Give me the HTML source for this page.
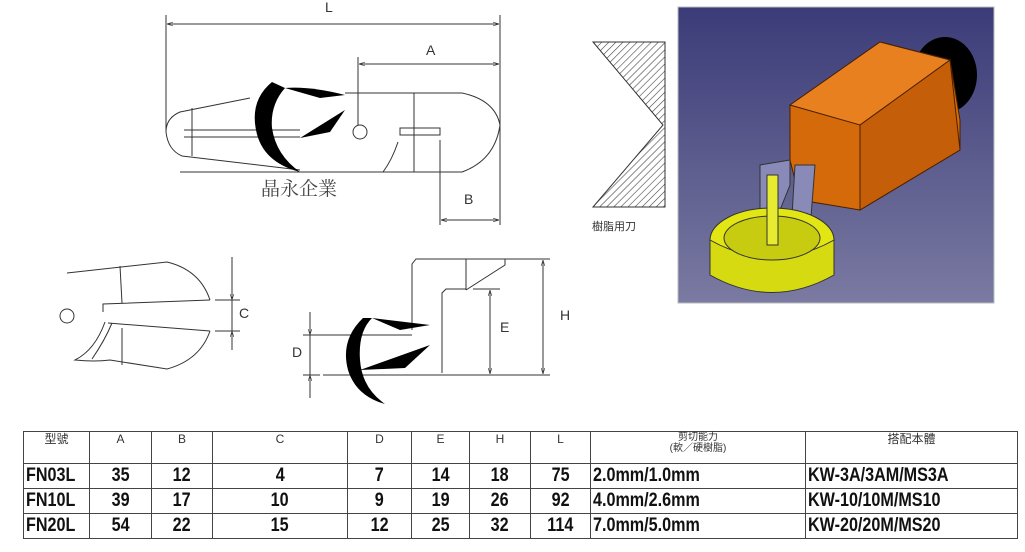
<!DOCTYPE html>
<html><head><meta charset="utf-8"><style>
html,body{margin:0;padding:0;background:#fff;width:1025px;height:552px;overflow:hidden}
svg{position:absolute;left:0;top:0}
table{position:absolute;left:23px;top:431px;border-collapse:collapse;font-family:"Liberation Sans",sans-serif}
td{border:1.5px solid #444;padding:0;text-align:center;font-weight:bold;font-size:19px;height:24px;color:#111;line-height:22px}
td span{display:inline-block;transform:scaleX(0.85);transform-origin:center}
td.l span{transform-origin:left}
tr.h td{font-weight:normal;font-size:12px;height:31px;vertical-align:top;color:#333;line-height:15px}
td.l{text-align:left;padding-left:2px}
</style></head><body>
<svg width="1025" height="552" viewBox="0 0 1025 552" font-family="Liberation Sans, sans-serif">
<defs>
<pattern id="hat" width="5" height="5" patternUnits="userSpaceOnUse" patternTransform="rotate(45)"><line x1="0" y1="0" x2="0" y2="5" stroke="#444" stroke-width="1.2"/></pattern>
<linearGradient id="bg" x1="0" y1="0" x2="0" y2="1"><stop offset="0" stop-color="#3b3b78"/><stop offset="1" stop-color="#7a7aa2"/></linearGradient>
<marker id="ar" viewBox="0 0 10 10" refX="10" refY="5" markerWidth="6" markerHeight="6" orient="auto-start-reverse"><path d="M0,2 L10,5 L0,8" fill="none" stroke="#333"/></marker>
</defs>
<g stroke="#333" stroke-width="1" fill="none">
<line x1="166" y1="15" x2="166" y2="132"/><line x1="500" y1="15" x2="500" y2="125"/>
<line x1="167" y1="24" x2="499" y2="24" marker-start="url(#ar)" marker-end="url(#ar)"/>
<line x1="358" y1="57" x2="358" y2="125"/>
<line x1="359" y1="64" x2="499" y2="64" marker-start="url(#ar)" marker-end="url(#ar)"/>
<path d="M345,93 L462,93 Q495,100 500,125 Q495,160 462,172 L180,172"/>
<path d="M250,98 L180,112 Q166,118 166,132 Q168,150 182,156 L300,170"/>
<path d="M192,108 L192,156 M184,130 L300,130 M184,137 L300,137"/>
<circle cx="360" cy="132" r="7"/>
<rect x="400" y="128" width="40" height="7"/>
<line x1="414" y1="93" x2="414" y2="172"/>
<path d="M383,172 Q392,160 398,142"/>
<line x1="440" y1="140" x2="440" y2="225"/><line x1="500" y1="125" x2="500" y2="225"/>
<line x1="441" y1="220" x2="499" y2="220" marker-start="url(#ar)" marker-end="url(#ar)"/>
<path d="M67,273 L167,262 Q200,270 210,300"/>
<path d="M103,312 L103,304 L210,300 M108,323 L210,331"/>
<path d="M210,331 Q200,360 167,369 L110,360 Q95,362 75,360 Q95,350 105,322"/>
<path d="M112,323 Q105,340 92,359"/>
<line x1="120" y1="266" x2="122" y2="303"/><line x1="122" y1="328" x2="122" y2="365"/>
<circle cx="67" cy="316" r="7"/>
<line x1="232" y1="257" x2="232" y2="350"/>
<line x1="215" y1="300" x2="240" y2="300"/><line x1="215" y1="331" x2="240" y2="331"/>
<line x1="232" y1="290" x2="232" y2="300" marker-end="url(#ar)"/><line x1="232" y1="341" x2="232" y2="331" marker-end="url(#ar)"/>
<path d="M412,330 L412,264 L416,259 L550,259"/>
<path d="M466,259 L466,290 M505,259 L505,265 L466,290"/>
<path d="M442,373 L442,293 L446,289 L466,289 M473,289 L500,289"/>
<line x1="323" y1="375" x2="550" y2="375"/>
<line x1="303" y1="335" x2="412" y2="335"/><line x1="303" y1="375" x2="320" y2="375"/>
<line x1="310" y1="312" x2="310" y2="398"/>
<line x1="310" y1="325" x2="310" y2="335" marker-end="url(#ar)"/><line x1="310" y1="385" x2="310" y2="375" marker-end="url(#ar)"/>
<line x1="490" y1="290" x2="490" y2="374" marker-start="url(#ar)" marker-end="url(#ar)"/>
<line x1="543" y1="260" x2="543" y2="374" marker-start="url(#ar)" marker-end="url(#ar)"/>
</g>
<g fill="#000">
<path d="M272,82 Q250,100 256,130 Q262,162 300,172 Q276,155 272,128 Q270,105 285,88 Z"/>
<path d="M285,88 Q310,86 345,95 L320,98 Z"/>
<path d="M300,138 L345,110 L330,132 Z"/>
<path d="M363,318 Q340,340 348,370 Q356,396 385,404 Q362,388 360,360 Q358,332 372,318 Z"/>
<path d="M372,318 L430,325 L400,330 Z"/>
<path d="M360,370 L430,345 L405,368 Z"/>
</g>
<g font-size="14" fill="#333">
<text x="325" y="12">L</text><text x="426" y="55">A</text><text x="464" y="204">B</text>
<text x="239" y="318">C</text><text x="292" y="357">D</text><text x="500" y="332">E</text><text x="560" y="320">H</text>
</g>
<text x="261" y="195" font-size="19" fill="#444" font-family="Liberation Serif, Noto Serif CJK SC, serif">晶永企業</text>
<path d="M593,42 L665,42 L665,207 L593,207 L663,125 Z" fill="url(#hat)" stroke="#333"/>
<text x="592" y="230" font-size="11" fill="#333" font-family="Liberation Sans, Noto Sans CJK TC, sans-serif">樹脂用刀</text>
<rect x="678" y="7" width="316" height="296" fill="url(#bg)" stroke="#bbb"/>
<ellipse cx="945" cy="75" rx="32" ry="38" fill="#000"/>
<path d="M790,105 L880,42 L950,60 L960,120 L960,150 L860,210 L800,200 L790,160 Z" fill="#d46a0a" stroke="#4a2000"/>
<path d="M790,105 L880,42 L950,60 L860,125 Z" fill="#e98020" stroke="#4a2000"/>
<path d="M860,125 L950,60 L960,150 L860,210 Z" fill="#c55e08" stroke="#4a2000"/>
<path d="M760,165 L790,160 L790,185 L770,235 L760,240 Z" fill="#8a8ab8" stroke="#333"/>
<path d="M795,165 L815,165 L810,230 L790,250 Z" fill="#8a8ab8" stroke="#333"/>
<ellipse cx="772" cy="240" rx="62" ry="32" fill="#e2e612" stroke="#333"/>
<path d="M710,240 L710,275 Q772,310 834,275 L834,240 Q772,275 710,240 Z" fill="#d6da10" stroke="#333"/>
<ellipse cx="772" cy="238" rx="48" ry="22" fill="#c8cc10" stroke="#333"/>
<rect x="767" y="175" width="11" height="70" fill="#e6ea30" stroke="#333"/>
</svg>
<table>
<colgroup><col style="width:66px"><col style="width:62px"><col style="width:61px"><col style="width:135px"><col style="width:64px"><col style="width:58px"><col style="width:61px"><col style="width:60px"><col style="width:215px"><col style="width:212px"></colgroup>
<tr class="h"><td>型號</td><td>A</td><td>B</td><td>C</td><td>D</td><td>E</td><td>H</td><td>L</td><td style="font-size:10px;line-height:11px">剪切能力<br>(軟／硬樹脂)</td><td>搭配本體</td></tr>
<tr><td class="l"><span>FN03L</span></td><td><span>35</span></td><td><span>12</span></td><td><span>4</span></td><td><span>7</span></td><td><span>14</span></td><td><span>18</span></td><td><span>75</span></td><td class="l"><span>2.0mm/1.0mm</span></td><td class="l"><span>KW-3A/3AM/MS3A</span></td></tr>
<tr><td class="l"><span>FN10L</span></td><td><span>39</span></td><td><span>17</span></td><td><span>10</span></td><td><span>9</span></td><td><span>19</span></td><td><span>26</span></td><td><span>92</span></td><td class="l"><span>4.0mm/2.6mm</span></td><td class="l"><span>KW-10/10M/MS10</span></td></tr>
<tr><td class="l"><span>FN20L</span></td><td><span>54</span></td><td><span>22</span></td><td><span>15</span></td><td><span>12</span></td><td><span>25</span></td><td><span>32</span></td><td><span>114</span></td><td class="l"><span>7.0mm/5.0mm</span></td><td class="l"><span>KW-20/20M/MS20</span></td></tr>
</table>
</body></html>
